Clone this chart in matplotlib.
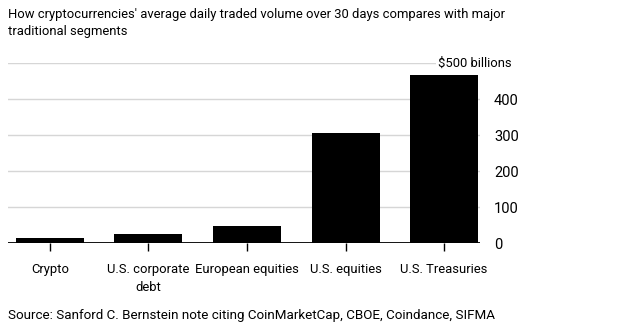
import matplotlib.pyplot as plt

plt.rcParams['font.family'] = ['Roboto', 'DejaVu Sans']

categories = ['Crypto', 'U.S. corporate\ndebt', 'European equities', 'U.S. equities', 'U.S. Treasuries']
volumes = [14, 26, 48, 307, 467]
yticks = [0, 100, 200, 300, 400]

fig = plt.figure(figsize=(6.3, 3.31), dpi=100)
ax = fig.add_axes([8/630, 1 - 243.3/331, 472/630, 180/331])

x = range(len(categories))
ax.bar(x, volumes, width=0.69, color='black', zorder=3)

ax.set_xlim(-0.426, 4.365)
ax.set_ylim(0, 500)

ax.yaxis.tick_right()
ax.set_yticks(yticks)
ax.tick_params(axis='y', length=0, pad=10, labelsize=10.5)
for y in yticks[1:] + [500]:
    ax.axhline(y, color='#d6d6d6', lw=1, zorder=1)
ax.axhline(0, color='black', lw=1.3, zorder=4)

ax.set_xticks(list(x))
ax.set_xticklabels(categories, fontsize=9.4, linespacing=1.55)
ax.tick_params(axis='x', length=6, width=1, color='black', pad=8)

for s in ax.spines.values():
    s.set_visible(False)

ax.text(4.69, 500, '$500 billions', ha='right', va='center', fontsize=9.4,
        bbox=dict(facecolor='white', edgecolor='none', pad=2), zorder=5)

fig.text(8/630, 1 - 8/331, "How cryptocurrencies' average daily traded volume over 30 days compares with major\ntraditional segments",
         ha='left', va='top', fontsize=9.4, linespacing=1.4)
fig.text(8/630, 1 - 316/331, 'Source: Sanford C. Bernstein note citing CoinMarketCap, CBOE, Coindance, SIFMA',
         ha='left', va='center', fontsize=9.6)

fig.savefig('out.png', dpi=100)
